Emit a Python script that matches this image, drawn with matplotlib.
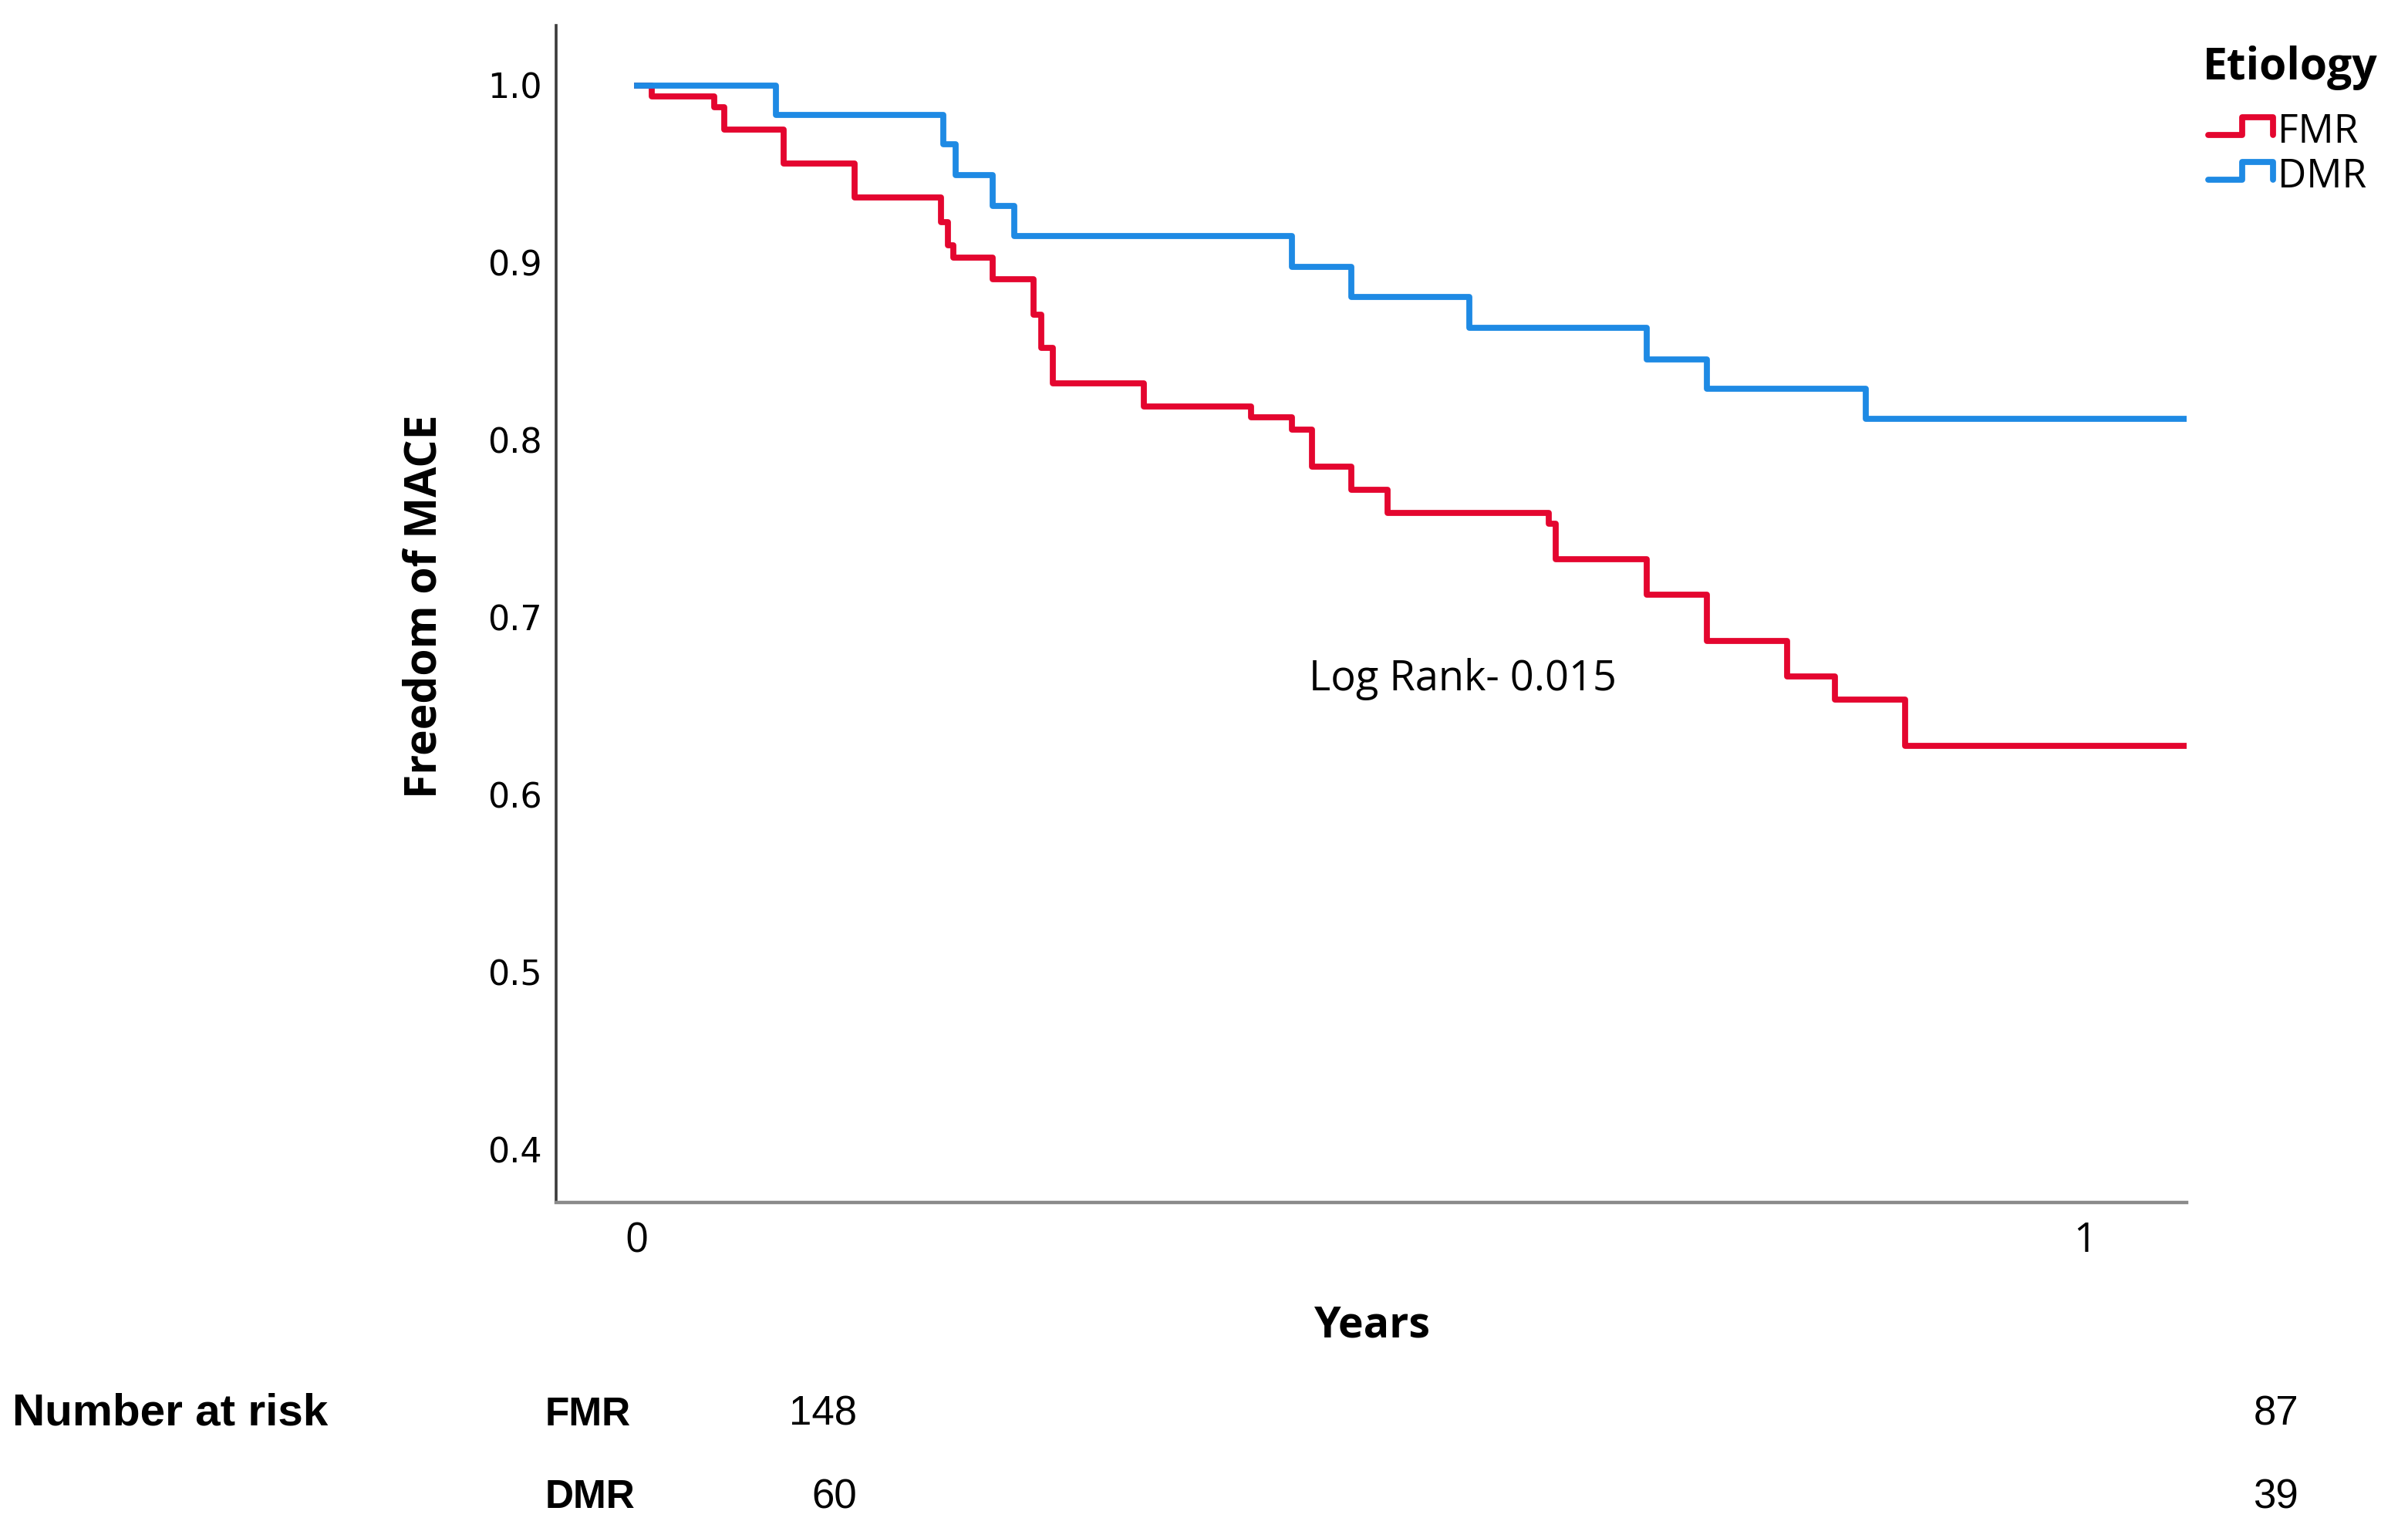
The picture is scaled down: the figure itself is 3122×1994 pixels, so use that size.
import matplotlib
matplotlib.use("Agg")
import matplotlib.pyplot as plt
from matplotlib.lines import Line2D
from matplotlib.legend_handler import HandlerBase

# Kaplan-Meier steps (years, freedom of MACE)
fmr_time = [0, 0.0101, 0.0533, 0.0602, 0.1012, 0.1502, 0.2099, 0.2147, 0.2184, 0.2456,
            0.2738, 0.2792, 0.2872, 0.3500, 0.4241, 0.4523, 0.4662, 0.4932, 0.5184,
            0.6296, 0.6345, 0.6972, 0.7391, 0.7944, 0.8274, 0.8759, 1.0695]
fmr_surv = [1.0, 0.994, 0.988, 0.975, 0.956, 0.937, 0.923, 0.910, 0.903, 0.891,
            0.871, 0.852, 0.832, 0.819, 0.813, 0.806, 0.785, 0.772, 0.759,
            0.753, 0.733, 0.713, 0.687, 0.667, 0.654, 0.628, 0.628]

dmr_time = [0, 0.0959, 0.2115, 0.2200, 0.2456, 0.2605, 0.4521, 0.4932, 0.5749,
            0.6972, 0.7391, 0.8486, 1.0695]
dmr_surv = [1.0, 0.9835, 0.967, 0.9496, 0.932, 0.915, 0.8976, 0.881, 0.8635,
            0.8457, 0.829, 0.812, 0.812]

groups = ["FMR", "DMR"]
colors = ["#E4062F", "#1E8AE4"]
risk_fmr = [148, 87]
risk_dmr = [60, 39]
y_ticks = [0.4, 0.5, 0.6, 0.7, 0.8, 0.9, 1.0]
x_ticks = [0, 1]

W, H = 3122, 1994


class StepHandler(HandlerBase):
    # little step glyph like the SPSS legend
    def create_artists(self, legend, orig_handle, xdescent, ydescent,
                       width, height, fontsize, trans):
        xs = [0, 0.52, 0.52, 1.0, 1.0]
        ys = [0.28, 0.28, 0.92, 0.92, 0.28]
        xs = [x * width - xdescent for x in xs]
        ys = [y * height - ydescent for y in ys]
        ln = Line2D(xs, ys, color=orig_handle.get_color(),
                    lw=orig_handle.get_linewidth(),
                    solid_joinstyle="round", solid_capstyle="round")
        ln.set_transform(trans)
        return [ln]


fig = plt.figure(figsize=(W / 100, H / 100), dpi=100)
ax = fig.add_axes([721 / W, 1 - 1559 / H, (2835 - 721) / W, (1559 - 33) / H])

l1, = ax.step(fmr_time, fmr_surv, where="post", color=colors[0], lw=5.6)
l2, = ax.step(dmr_time, dmr_surv, where="post", color=colors[1], lw=5.6)

ax.set_xlim(-0.0559, 1.0703)
ax.set_ylim(0.3704, 1.0339)

for s in ["top", "right"]:
    ax.spines[s].set_visible(False)
ax.spines["left"].set_color("#3a3a3a")
ax.spines["left"].set_linewidth(2.6)
ax.spines["bottom"].set_color("#8a8a8a")
ax.spines["bottom"].set_linewidth(3.2)

ax.set_yticks(y_ticks)
ax.set_yticklabels(["%.1f" % v for v in y_ticks], fontsize=32, family="DejaVu Sans")
for lab in ax.get_yticklabels():
    lab.set_va("center_baseline")
ax.set_xticks(x_ticks)
ax.set_xticklabels([str(v) for v in x_ticks], fontsize=38, family="Open Sans")
ax.tick_params(axis="y", length=0, pad=13)
ax.tick_params(axis="x", length=0, pad=17)

fig.text(550 / W, 1 - 786 / H, "Freedom of MACE", rotation=90, ha="center", va="center",
         fontsize=41, fontweight="bold", family="Open Sans")
fig.text(1779 / W, 1 - 1733 / H, "Years", ha="center", va="baseline",
         fontsize=40, fontweight="bold", family="Open Sans")
fig.text(1697 / W, 1 - 895 / H, "Log Rank- 0.015", ha="left", va="baseline",
         fontsize=39, family="Open Sans")

# legend: title as separate text, entries with step glyphs
fig.text(2856 / W, 1 - 103 / H, "Etiology", ha="left", va="baseline",
         fontsize=41, fontweight="bold", family="Open Sans")
leg = fig.legend([l1, l2], groups, loc="upper left",
                 bbox_to_anchor=(2863 / W, 1 - 146 / H), frameon=False,
                 handler_map={Line2D: StepHandler()},
                 prop={"family": "Open Sans", "size": 37},
                 handlelength=1.63, handletextpad=0.12, labelspacing=0.13,
                 borderpad=0, borderaxespad=0)

# number at risk table
fig.text(16 / W, 1 - 1848 / H, "Number at risk", ha="left", va="baseline",
         fontsize=42, fontweight="bold", family="Liberation Sans")
row_y = [1 - 1848 / H, 1 - 1955 / H]
risk_x = [1111 / W, 2980 / W]
for name, ry, vals in zip(groups, row_y, [risk_fmr, risk_dmr]):
    fig.text(707 / W, ry, name, ha="left", va="baseline",
             fontsize=37, fontweight="bold", family="Liberation Sans")
    for rx, v in zip(risk_x, vals):
        fig.text(rx, ry, str(v), ha="right", va="baseline",
                 fontsize=38, family="Liberation Sans")

fig.savefig("out.png", dpi=100, facecolor="white")
